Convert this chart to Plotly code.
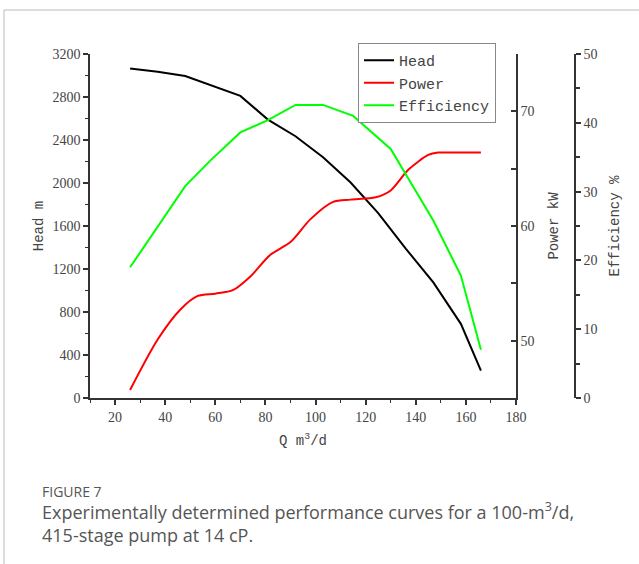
import plotly.graph_objects as go

# ---- data ----
q_head = [26, 37, 48, 58, 70, 81, 92, 103, 114, 125, 136, 147, 158, 166]
head_m = [3065, 3035, 2995, 2910, 2810, 2590, 2435, 2240, 2005, 1720, 1390, 1075, 690, 255]

q_power = [26, 37, 46, 53, 60, 67, 74, 82, 90, 98, 107, 114, 124, 130, 137, 145, 149, 158, 166]
power_kw = [45.7, 50.1, 52.7, 53.9, 54.1, 54.4, 55.6, 57.5, 58.6, 60.6, 62.1, 62.3, 62.5, 63.1, 64.9, 66.2, 66.4, 66.4, 66.4]

q_eff = [26, 48, 58, 70, 81, 92, 103, 115, 130, 147, 158, 166]
eff_pct = [19.0, 30.8, 34.5, 38.6, 40.4, 42.6, 42.6, 41.0, 36.2, 25.8, 17.8, 7.0]

x_ticks = [20, 40, 60, 80, 100, 120, 140, 160, 180]
head_ticks = [0, 400, 800, 1200, 1600, 2000, 2400, 2800, 3200]
power_ticks = [50, 60, 70]
eff_ticks = [0, 10, 20, 30, 40, 50]

# ---- geometry (pixels) ----
W, H = 639, 564
L, R, T, B = 90, 50, 54, 166
pw = W - L - R
ph = H - T - B
plot_right = 516
xdom = (plot_right - L) / pw

def px(xp):
    return (xp - L) / pw

def py(yp):
    return (H - B - yp) / ph

tick_font = dict(family="Liberation Serif", size=14, color="#444")
title_font = dict(family="Liberation Mono", size=14, color="#444")
axis_col = "#333"

fig = go.Figure()
fig.add_trace(go.Scatter(x=q_head, y=head_m, mode="lines", name="Head",
                         line=dict(color="#000000", width=2), yaxis="y"))
fig.add_trace(go.Scatter(x=q_power, y=power_kw, mode="lines", name="Power",
                         line=dict(color="#ff0000", width=2, shape="spline", smoothing=0.8),
                         yaxis="y2"))
fig.add_trace(go.Scatter(x=q_eff, y=eff_pct, mode="lines", name="Efficiency",
                         line=dict(color="#00ff00", width=2), yaxis="y3"))

fig.update_layout(
    width=W, height=H,
    margin=dict(l=L, r=R, t=T, b=B),
    paper_bgcolor="white", plot_bgcolor="white",
    showlegend=True,
    legend=dict(x=px(358), y=py(43), xanchor="left", yanchor="top",
                bordercolor="#888", borderwidth=1, bgcolor="white",
                font=dict(family="Liberation Mono", size=15, color="#444"),
                tracegroupgap=0, itemwidth=30),
    xaxis=dict(domain=[0, xdom], range=[10, 180], tickvals=x_ticks,
               showgrid=False, zeroline=False, showline=True, linecolor=axis_col, linewidth=1.5,
               ticks="outside", ticklen=5, tickwidth=1.5, tickcolor=axis_col,
               minor=dict(dtick=10, tick0=0, ticks="outside", ticklen=3, tickcolor=axis_col, tickwidth=1.2),
               tickfont=tick_font,
               title=dict(text="Q m<sup>3</sup>/d", font=title_font, standoff=12)),
    yaxis=dict(range=[0, 3200], tickvals=head_ticks,
               showgrid=False, zeroline=False, showline=True, linecolor=axis_col, linewidth=1.5,
               ticks="outside", ticklen=5, tickwidth=1.5, tickcolor=axis_col,
               minor=dict(dtick=200, tick0=0, ticks="outside", ticklen=3, tickcolor=axis_col, tickwidth=1.2),
               tickfont=tick_font,
               title=dict(text="Head m", font=title_font, standoff=6)),
    yaxis2=dict(range=[45, 75], tickvals=power_ticks, overlaying="y", side="right", anchor="x",
                showgrid=False, zeroline=False, showline=True, linecolor=axis_col, linewidth=1.5,
                ticks="inside", ticklen=5, tickwidth=1.5, tickcolor=axis_col,
                minor=dict(dtick=5, tick0=45, ticks="inside", ticklen=5, tickcolor=axis_col, tickwidth=1.5),
                tickfont=tick_font,
                title=dict(text="Power kW", font=title_font, standoff=15)),
    yaxis3=dict(range=[0, 50], tickvals=eff_ticks, overlaying="y", side="right", anchor="free",
                position=px(575),
                showgrid=False, zeroline=False, showline=True, linecolor=axis_col, linewidth=1.5,
                ticks="outside", ticklen=5, tickwidth=1.5, tickcolor=axis_col,
                minor=dict(dtick=5, tick0=0, ticks="outside", ticklen=4, tickcolor=axis_col, tickwidth=1.5),
                tickfont=tick_font,
                title=dict(text="Efficiency %", font=title_font, standoff=12)),
)

# card border (top and left)
fig.add_shape(type="line", xref="paper", yref="paper", x0=px(4), x1=px(W + 2), y0=py(10), y1=py(10),
              line=dict(color="#bbbbbb", width=1))
fig.add_shape(type="line", xref="paper", yref="paper", x0=px(4), x1=px(4), y0=py(10), y1=py(H + 2),
              line=dict(color="#bbbbbb", width=1))

cap_font = "Open Sans"
fig.add_annotation(text="FIGURE 7", xref="paper", yref="paper", x=px(40), y=py(491),
                   xanchor="left", yanchor="middle", showarrow=False,
                   font=dict(family=cap_font, size=14, color="#555"))
fig.add_annotation(text="Experimentally determined performance curves for a 100-m<sup>3</sup>/d,",
                   xref="paper", yref="paper", x=px(40), y=py(511),
                   xanchor="left", yanchor="middle", showarrow=False,
                   font=dict(family=cap_font, size=18, color="#555"))
fig.add_annotation(text="415-stage pump at 14 cP.", xref="paper", yref="paper", x=px(40), y=py(535),
                   xanchor="left", yanchor="middle", showarrow=False,
                   font=dict(family=cap_font, size=18, color="#555"))

fig.write_html("out.html")
